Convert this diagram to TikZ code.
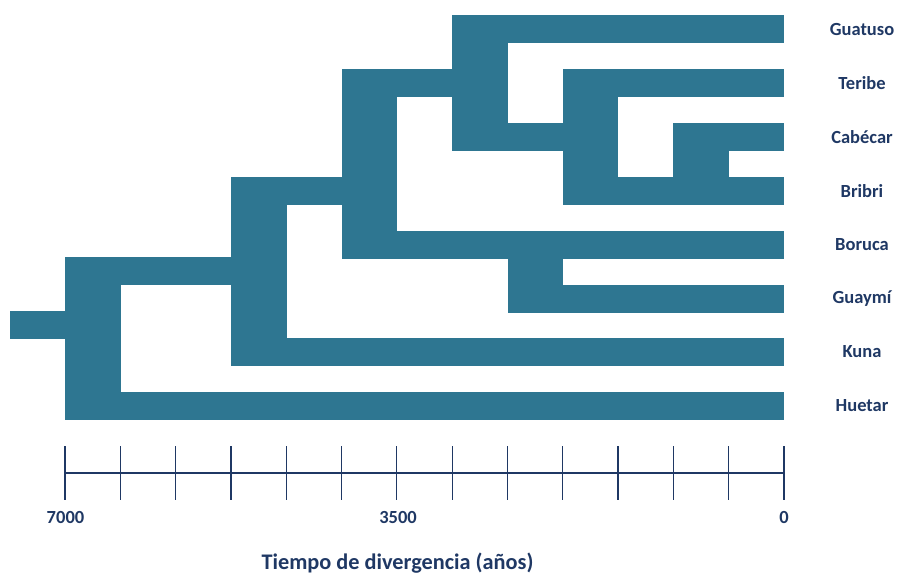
\documentclass[tikz,border=0pt]{standalone}
\usepackage{fontspec}
\setmainfont{Carlito}
\definecolor{bar}{RGB}{46,118,145}
\definecolor{navy}{RGB}{31,56,100}
\begin{document}
\begin{tikzpicture}[x=1pt,y=-1pt,
  br/.style={fill=bar,draw=none},
  lab/.style={font=\fontsize{18.5}{22}\selectfont\bfseries,text=navy,anchor=center,inner sep=0pt},
  tk/.style={draw=navy,line width=1.2pt}]
\useasboundingbox (0,0) rectangle (897,574);
% root
\fill[br] (10,311) rectangle (65,339);
\fill[br] (65,257) rectangle (120.5,420);
\fill[br] (120.5,257) rectangle (231,285);
\fill[br] (120.5,392) rectangle (784,420);
% node 2
\fill[br] (231,177) rectangle (287,366);
\fill[br] (287,338) rectangle (784,366);
\fill[br] (287,177) rectangle (342,205);
% node 3
\fill[br] (342,69) rectangle (397,259);
\fill[br] (397,231) rectangle (784,259);
\fill[br] (397,69) rectangle (452,97);
% Boruca/Guaymi
\fill[br] (508,231) rectangle (563,313);
\fill[br] (563,285) rectangle (784,313);
% node 4
\fill[br] (452,15) rectangle (508,151);
\fill[br] (508,15) rectangle (784,43);
\fill[br] (508,123) rectangle (563,151);
% node 5
\fill[br] (563,69) rectangle (618,205);
\fill[br] (618,69) rectangle (784,97);
\fill[br] (618,177) rectangle (784,205);
% Cabecar/Bribri
\fill[br] (673,123) rectangle (729,177);
\fill[br] (729,123) rectangle (784,151);
% labels
\node[lab] (g) at (862,29) {Guatuso};
\node[lab] (t) at (862,83) {Teribe};
\node[lab] (c) at (862,137) {Cabécar};
\node[lab] (b) at (862,191) {Bribri};
\node[lab] (bo) at (862,245) {Boruca};
\node[lab] (gu) at (862,299) {Guaymí};
\node[lab] (k) at (862,352) {Kuna};
\node[lab] (h) at (862,406) {Huetar};
% axis
\coordinate (a0) at (65,473);
\coordinate (a1) at (784,473);
\draw[tk] (a0) -- (a1);
\foreach \i in {0,...,13} {
  \draw[tk] ({65+\i*55.3077},446) -- ({65+\i*55.3077},500);
}
\node[lab] (l7) at (65.5,517) {7000};
\node[lab] (l35) at (398,517) {3500};
\node[lab] (l0) at (784,517) {0};
\node[lab,font=\fontsize{22.3}{26}\selectfont\bfseries] (ttl) at (397.5,563) {Tiempo de divergencia (años)};
\end{tikzpicture}
\end{document}
